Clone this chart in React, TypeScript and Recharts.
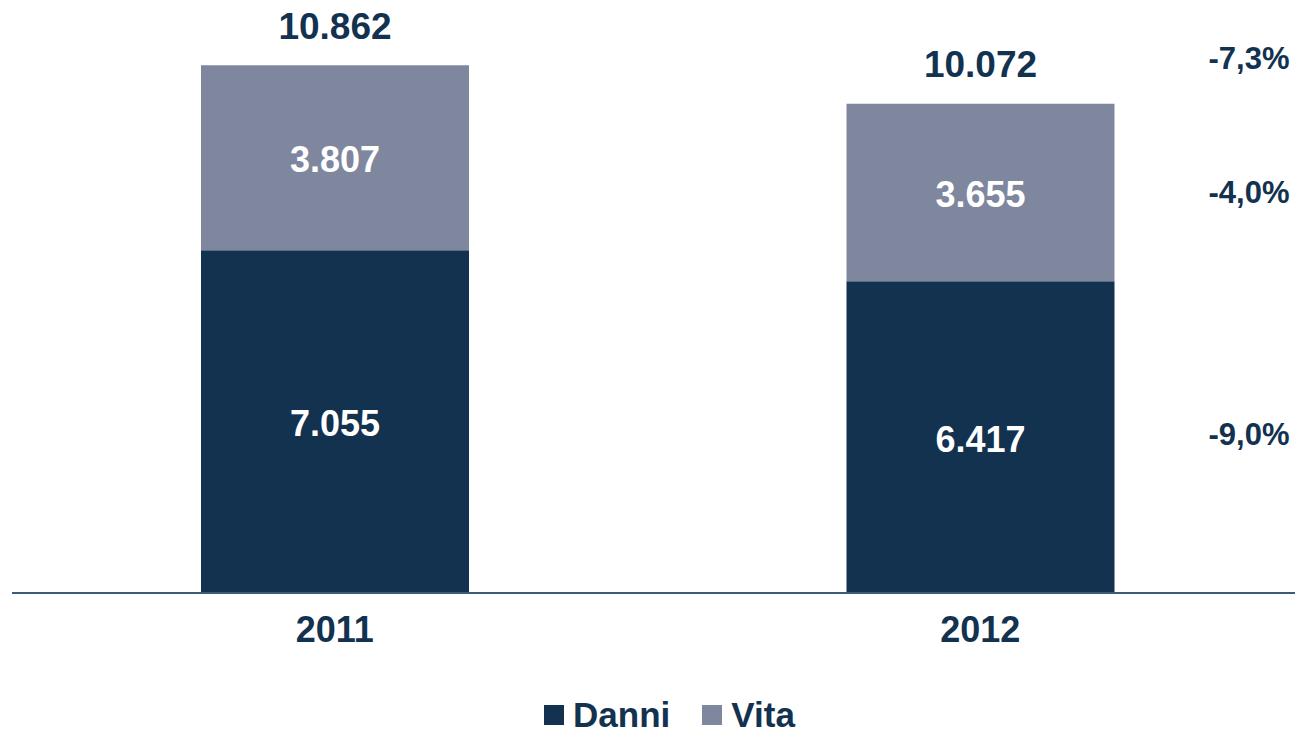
import React from 'react';
import { BarChart, Bar, XAxis, YAxis, Legend, LabelList } from 'recharts';

const years = ['2011', '2012'];
const danni = [7055, 6417];
const vita = [3807, 3655];
const totals = [10862, 10072];
const changeTotal = '-7,3%';
const changeVita = '-4,0%';
const changeDanni = '-9,0%';

const NAVY = '#12324F';
const GREY = '#7F879F';
const FONT = '"Liberation Sans", Arial, sans-serif';

const data = years.map((year, i) => ({ year, danni: danni[i], vita: vita[i], total: totals[i] }));

const fmt = (n: number) => String(n).replace(/\B(?=(\d{3})+(?!\d))/g, '.');

const lastIdx = years.length - 1;

function InnerLabel(props: any) {
  const { x, y, width, height, value } = props;
  return (
    <text x={x + width / 2} y={y + height / 2 + 2} fill="#fff" fontSize={36} fontWeight="bold"
      fontFamily={FONT} textAnchor="middle" dominantBaseline="central">
      {fmt(value)}
    </text>
  );
}

function makeDanniLabel(props: any) {
  const { x, y, width, height, value, index } = props;
  return (
    <g>
      <InnerLabel x={x} y={y} width={width} height={height} value={value} />
      {index === lastIdx && (
        <text x={x + width + 175} y={y + height / 2 - 3} fill={NAVY} fontSize={31} fontWeight="bold"
          fontFamily={FONT} textAnchor="end" dominantBaseline="central">{changeDanni}</text>
      )}
    </g>
  );
}

function makeVitaLabel(props: any) {
  const { x, y, width, height, value, index } = props;
  return (
    <g>
      <InnerLabel x={x} y={y} width={width} height={height} value={value} />
      <text x={x + width / 2} y={y - 39} fill={NAVY} fontSize={37} fontWeight="bold"
        fontFamily={FONT} textAnchor="middle" dominantBaseline="central">
        {fmt(totals[index])}
      </text>
      {index === lastIdx && (
        <>
          <text x={x + width + 175} y={y - 45} fill={NAVY} fontSize={31} fontWeight="bold"
            fontFamily={FONT} textAnchor="end" dominantBaseline="central">{changeTotal}</text>
          <text x={x + width + 175} y={y + height / 2} fill={NAVY} fontSize={31} fontWeight="bold"
            fontFamily={FONT} textAnchor="end" dominantBaseline="central">{changeVita}</text>
        </>
      )}
    </g>
  );
}

function YearTick(props: any) {
  const { x, y, payload } = props;
  return (
    <text x={x} y={y + 28} fill={NAVY} fontSize={36} fontWeight="bold" fontFamily={FONT}
      textAnchor="middle" dominantBaseline="central">
      {payload.value}
    </text>
  );
}

function LegendContent() {
  const items = [
    { name: 'Danni', color: NAVY },
    { name: 'Vita', color: GREY },
  ];
  return (
    <div style={{ display: 'flex', justifyContent: 'center', alignItems: 'center', gap: 32, fontFamily: FONT, paddingLeft: 24, height: 36 }}>
      {items.map((it) => (
        <div key={it.name} style={{ display: 'flex', alignItems: 'center' }}>
          <span style={{ width: 20, height: 20, background: it.color, display: 'inline-block', marginRight: 9 }} />
          <span style={{ fontSize: 35, fontWeight: 'bold', color: NAVY, lineHeight: '30px' }}>{it.name}</span>
        </div>
      ))}
    </div>
  );
}

export default function App() {
  return (
    <div style={{ position: 'absolute', left: 0, top: 0, width: 1295, height: 733, overflow: 'hidden', background: '#fff' }}>
      <BarChart width={1310} height={733} data={data} margin={{ top: 10, right: 7, left: 12, bottom: 0 }}>
        <XAxis dataKey="year" height={104} axisLine={{ stroke: '#3D5A78', strokeWidth: 2 }} tickLine={false}
          tick={<YearTick />} interval={0} />
        <YAxis hide domain={[0, 12000]} width={0} />
        <Legend verticalAlign="bottom" height={36} content={<LegendContent />} />
        <Bar dataKey="danni" stackId="a" fill={NAVY} barSize={268} isAnimationActive={false}>
          <LabelList dataKey="danni" content={makeDanniLabel} />
        </Bar>
        <Bar dataKey="vita" stackId="a" fill={GREY} barSize={268} isAnimationActive={false}>
          <LabelList dataKey="vita" content={makeVitaLabel} />
        </Bar>
      </BarChart>
    </div>
  );
}
